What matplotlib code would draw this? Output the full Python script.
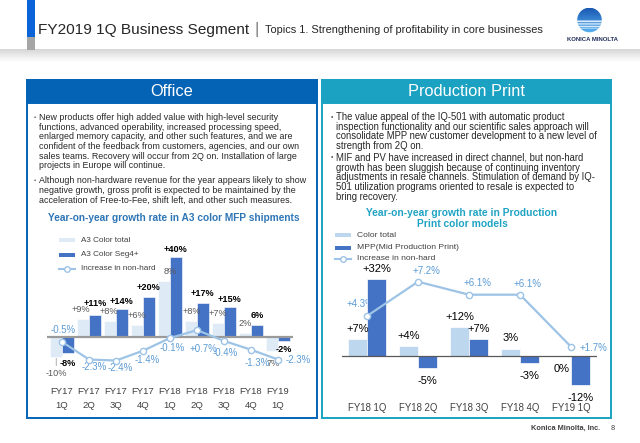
import numpy as np
import matplotlib
matplotlib.use("Agg")
import matplotlib.pyplot as plt
from matplotlib.patches import Rectangle, Circle
from matplotlib.transforms import blended_transform_factory

W, H = 640, 443

# ---- Office: A3 color MFP shipments (YoY %) ----
office_years = ["FY17", "FY17", "FY17", "FY17", "FY18", "FY18", "FY18", "FY18", "FY19"]
office_quarters = ["1Q", "2Q", "3Q", "4Q", "1Q", "2Q", "3Q", "4Q", "1Q"]
office_total = [-10, 9, 8, 6, 28, 8, 7, 2, -7]
office_total_labels = ["-10%", "+9%", "+8%", "+6%", "8%", "+8%", "+7%", "2%", "7%"]
office_seg4 = [-8, 11, 14, 20, 40, 17, 15, 6, -2]
office_seg4_labels = ["-8%", "+11%", "+14%", "+20%", "+40%", "+17%", "+15%", "6%", "-2%"]
office_nonhard = [-0.5, -2.3, -2.4, -1.4, -0.1, 0.7, -0.4, -1.3, -2.3]

# ---- Production Print: color models (YoY %) ----
prod_quarters = ["FY18 1Q", "FY18 2Q", "FY18 3Q", "FY18 4Q", "FY19 1Q"]
prod_total = [7, 4, 12, 3, 0]
prod_total_labels = ["+7%", "+4%", "+12%", "3%", "0%"]
prod_mpp = [32, -5, 7, -3, -12]
prod_mpp_labels = ["+32%", "-5%", "+7%", "-3%", "-12%"]
prod_nonhard = [4.3, 7.2, 6.1, 6.1, 1.7]

# label nudges in pixels (dx right, dy down), styling only
OFFICE_TOTAL_OFFS = [(0, 16), (-2, -9.5), (-1, -10), (0, -10), (6, -9), (1, -9), (0, -10), (0, -9), (1, 12)]
OFFICE_SEG4_OFFS = [(0, 10), (0, -12), (0, -8), (0, -9), (0, -8), (0, -9), (0, -8), (0, -10), (0, 9)]
OFFICE_LINE_OFFS = [(1.5, -12), (5.5, 7.5), (4.5, 7.5), (4, 9), (2, 10), (6.5, 19), (1, 12), (6.5, 13), (20.5, 0)]
PROD_LINE_OFFS = [(-7, -12), (8, -11), (9, -12), (8, -11), (22, 1)]

OFFICE_BULLET_1 = [
    "New products offer high added value with high-level security",
    "functions, advanced operability, increased processing speed,",
    "enlarged memory capacity, and other such features, and we are",
    "confident of the feedback from customers, agencies, and our own",
    "sales teams. Recovery will occur from 2Q on. Installation of large",
    "projects in Europe will continue.",
]
OFFICE_BULLET_2 = [
    "Although non-hardware revenue for the year appears likely to show",
    "negative growth, gross profit is expected to be maintained by the",
    "acceleration of Free-to-Fee, shift left, and other such measures.",
]
PROD_BULLET_1 = [
    "The value appeal of the IQ-501 with automatic product",
    "inspection functionality and our scientific sales approach will",
    "consolidate MPP new customer development to a new level of",
    "strength from 2Q on.",
]
PROD_BULLET_2 = [
    "MIF and PV have increased in direct channel, but non-hard",
    "growth has been sluggish because of continuing inventory",
    "adjustments in resale channels. Stimulation of demand by IQ-",
    "501 utilization programs oriented to resale is expected to",
    "bring recovery.",
]

# colors
OFFICE_BLUE = "#0563B5"
PROD_TEAL = "#1BA1C1"
LIGHT_OFFICE = "#DEEBF7"
LIGHT_PROD = "#BDD7EE"
DARK_BAR = "#4472C4"
LINE_COL = "#9DC3E6"
LINE_TXT = "#5B9BD5"
TEXT_COL = "#262626"

plt.rcParams["font.family"] = ["Liberation Sans", "DejaVu Sans"]


def px_rect(left, top, right, bottom):
    """pixel box (y down) -> figure fraction rect"""
    return [left / W, 1 - bottom / H, (right - left) / W, (bottom - top) / H]


def put_label(ax, x, y, text, off, **kw):
    dx, dy = off
    return ax.annotate(text, xy=(x, y), xytext=(dx * 0.72, -dy * 0.72),
                       textcoords="offset points", ha="center", va="center",
                       annotation_clip=False, **kw)


def column_image(r, g, b):
    """vertical gradient image (rows x 2 x rgb)"""
    return np.stack([r, g, b], axis=-1)[:, None, :].repeat(2, axis=1)


def draw_page(bg):
    # header bar + title
    bg.add_patch(Rectangle((27.3, 0), 7.7, 37.3, color="#0A64D8", lw=0))
    bg.add_patch(Rectangle((27.3, 37.3), 7.7, 12.2, color="#A6A6A6", lw=0))
    bg.text(37.5, 29.5, "FY2019 1Q Business Segment", fontsize=11.1, color=TEXT_COL,
            ha="left", va="center")
    bg.text(257, 29, "|", fontsize=12, color="#7F7F7F", ha="center", va="center")
    bg.text(265, 30, "Topics 1. Strengthening of profitability in core businesses",
            fontsize=7.9, color=TEXT_COL, ha="left", va="center")

    # shadow under the header
    shade = np.linspace(0.84, 1.0, 40)
    bg.imshow(column_image(shade, shade, shade), extent=[0, 640, 62, 49.5],
              aspect="auto", interpolation="bilinear", zorder=0)

    # logo globe
    t = np.linspace(0, 1, 80)
    r = 0.10 + 0.25 * t
    g = 0.35 + 0.35 * t
    b = 0.70 + 0.25 * t
    for lo, hi in [(0.50, 0.56), (0.62, 0.67), (0.72, 0.76), (0.80, 0.83)]:
        m = (t >= lo) & (t <= hi)
        r[m], g[m], b[m] = 0.92, 0.96, 1.0
    globe = Circle((589.5, 20), 12.3, transform=bg.transData, fc="none", ec="none")
    bg.add_patch(globe)
    im = bg.imshow(column_image(r, g, b), extent=[577, 602, 32.5, 7.5],
                   aspect="auto", interpolation="bilinear")
    im.set_clip_path(globe)
    bg.text(592.5, 39, "KONICA MINOLTA", fontsize=4.3, color="#1F2D5A", ha="center",
            va="center", weight="bold")

    # panels
    for (l, r_, col, title) in [(26.5, 316.5, OFFICE_BLUE, "Office"),
                                (321.5, 611, PROD_TEAL, "Production Print")]:
        bg.add_patch(Rectangle((l, 80), r_ - l, 338, fc="white", ec=col, lw=1.4))
        bg.add_patch(Rectangle((l, 80), r_ - l, 23.3, fc=col, ec=col, lw=1.4))
        bg.text((l + r_) / 2, 91.8, title, fontsize=11.8, color="white", ha="center", va="center")

    # bullets
    def bullets(x, lines, y0, step, size):
        bg.text(x - 6, y0, "\u2022", fontsize=size - 1.8, color="#595959", ha="left", va="center")
        for k, s in enumerate(lines):
            bg.text(x, y0 + k * step, s, fontsize=size, color=TEXT_COL, ha="left", va="center")

    bullets(39.3, OFFICE_BULLET_1, 117.5, 9.65, 6.4)
    bullets(39.3, OFFICE_BULLET_2, 180.8, 9.6, 6.4)
    bullets(336.3, PROD_BULLET_1, 117.0, 9.7, 6.85)
    bullets(336.3, PROD_BULLET_2, 158.0, 9.7, 6.85)

    bg.text(174, 217.7, "Year-on-year growth rate in A3 color MFP shipments",
            fontsize=7.3, color="#2E75B6", weight="bold", ha="center", va="center")
    bg.text(462, 213, "Year-on-year growth rate in Production", fontsize=7.4,
            color="#1FA3C3", weight="bold", ha="center", va="center")
    bg.text(462, 224, "Print color models", fontsize=7.4,
            color="#1FA3C3", weight="bold", ha="center", va="center")

    # footer
    bg.text(565.5, 428, "Konica Minolta, Inc.", fontsize=5.3, color="#404040",
            weight="bold", ha="center", va="center")
    bg.text(613, 428, "8", fontsize=5.3, color="#404040", ha="center", va="center")


def draw_legend(bg, x, ys, light, names, size):
    bg.add_patch(Rectangle((x, ys[0] - 2.3), 15.5, 4.6, color=light, lw=0))
    bg.add_patch(Rectangle((x, ys[1] - 2.0), 15.5, 4.0, color=DARK_BAR, lw=0))
    bg.plot([x, x + 15.5], [ys[2], ys[2]], color=LINE_COL, lw=1.5)
    bg.plot([x + 7.75], [ys[2]], "o", ms=4, mfc="white", mec=LINE_COL, mew=1.0)
    for y, name in zip(ys, names):
        bg.text(x + 22, y, name, fontsize=size, color="#404040", ha="left", va="center")


def office_chart(fig, bg):
    ax = fig.add_axes(px_rect(47.2, 235, 292.9, 375))
    ax2 = ax.twinx()
    ax.set_xlim(-0.55, 8.55)
    ax.set_ylim(-19, 51)
    ax2.set_ylim(-38 / 9.8, 102 / 9.8)
    x = np.arange(len(office_total))
    w = 0.43

    ax.bar(x - w / 2, office_total, w, color=LIGHT_OFFICE, edgecolor="white", lw=0.4, zorder=2)
    ax.bar(x + w / 2, office_seg4, w, color=DARK_BAR, edgecolor="white", lw=0.4, zorder=2)
    ax.axhline(0, color="#9A9A9A", lw=1.6, zorder=3)
    ax2.plot(x, office_nonhard, color=LINE_COL, lw=1.6, marker="o", ms=4.5,
             mfc="white", mec=LINE_COL, mew=1.0, zorder=4)

    for i in x:
        kw = dict(fontsize=6.6, color="#595959")
        if i == 0:
            kw["arrowprops"] = dict(arrowstyle="-", color="#A0A0A0", lw=0.6, shrinkA=0, shrinkB=1)
        put_label(ax, i - w / 2, office_total[i], office_total_labels[i], OFFICE_TOTAL_OFFS[i], **kw)
        put_label(ax, i + w / 2, office_seg4[i], office_seg4_labels[i], OFFICE_SEG4_OFFS[i],
                  fontsize=6.6, color="black", weight="bold")
        put_label(ax2, i, office_nonhard[i], f"{office_nonhard[i]:+.1f}%", OFFICE_LINE_OFFS[i],
                  fontsize=6.9, color=LINE_TXT)

    tr = blended_transform_factory(ax.transData, bg.transData)
    for i in x:
        ax.text(i, 391, office_years[i], transform=tr, fontsize=6.8, color="#404040",
                ha="center", va="center")
        ax.text(i, 406, office_quarters[i], transform=tr, fontsize=6.8, color="#404040",
                ha="center", va="center")

    for a in (ax, ax2):
        a.axis("off")

    draw_legend(bg, 59, [240, 254.5, 269], LIGHT_OFFICE,
                ["A3 Color total", "A3 Color Seg4+", "Increase in non-hard"], 5.9)


def production_chart(fig, bg):
    ax = fig.add_axes(px_rect(341.5, 262, 596.5, 400))
    ax2 = ax.twinx()
    ax.set_xlim(-0.5, 4.5)
    ax.set_ylim(-44 / 2.4, 94 / 2.4)
    ax2.set_ylim(-33.2 / 11.82, 104.8 / 11.82)
    x = np.arange(len(prod_total))
    w = 0.37

    ax.bar(x - w / 2, prod_total, w, color=LIGHT_PROD, edgecolor="white", lw=0.5, zorder=2)
    ax.bar(x + w / 2, prod_mpp, w, color=DARK_BAR, edgecolor="white", lw=0.5, zorder=2)
    ax.axhline(0, color="#595959", lw=0.9, zorder=3)
    ax2.plot(x, prod_nonhard, color=LINE_COL, lw=1.6, marker="o", ms=4.5,
             mfc="white", mec=LINE_COL, mew=1.0, zorder=4)

    for i in x:
        for xx, v, lab in [(i - w / 2, prod_total[i], prod_total_labels[i]),
                           (i + w / 2, prod_mpp[i], prod_mpp_labels[i])]:
            off = (0, -10.5) if v > 0 else (0, 13)
            put_label(ax, xx, v, lab, off, fontsize=8, color="black", zorder=5)
        # non-hard labels sit under the bars, like the slide
        dx, dy = PROD_LINE_OFFS[i]
        ax.annotate(f"{prod_nonhard[i]:+.1f}%", xy=(i, prod_nonhard[i]), xycoords=ax2.transData,
                    xytext=(dx * 0.72, -dy * 0.72), textcoords="offset points",
                    ha="center", va="center", fontsize=7.0, color=LINE_TXT, zorder=1)

    tr = blended_transform_factory(ax.transData, bg.transData)
    for i in x:
        ax.text(i, 408, prod_quarters[i], transform=tr, fontsize=6.9, color="#404040",
                ha="center", va="center")

    for a in (ax, ax2):
        a.axis("off")

    draw_legend(bg, 335, [235, 247.7, 258.7], LIGHT_PROD,
                ["Color total", "MPP(Mid Production Print)", "Increase in non-hard"], 6.1)


def main():
    fig = plt.figure(figsize=(W / 100, H / 100), dpi=100)
    bg = fig.add_axes([0, 0, 1, 1])
    bg.set_xlim(0, W)
    bg.set_ylim(H, 0)
    bg.axis("off")

    draw_page(bg)
    office_chart(fig, bg)
    production_chart(fig, bg)

    fig.savefig("out.png", dpi=100)
    plt.close(fig)


if __name__ == "__main__":
    main()
